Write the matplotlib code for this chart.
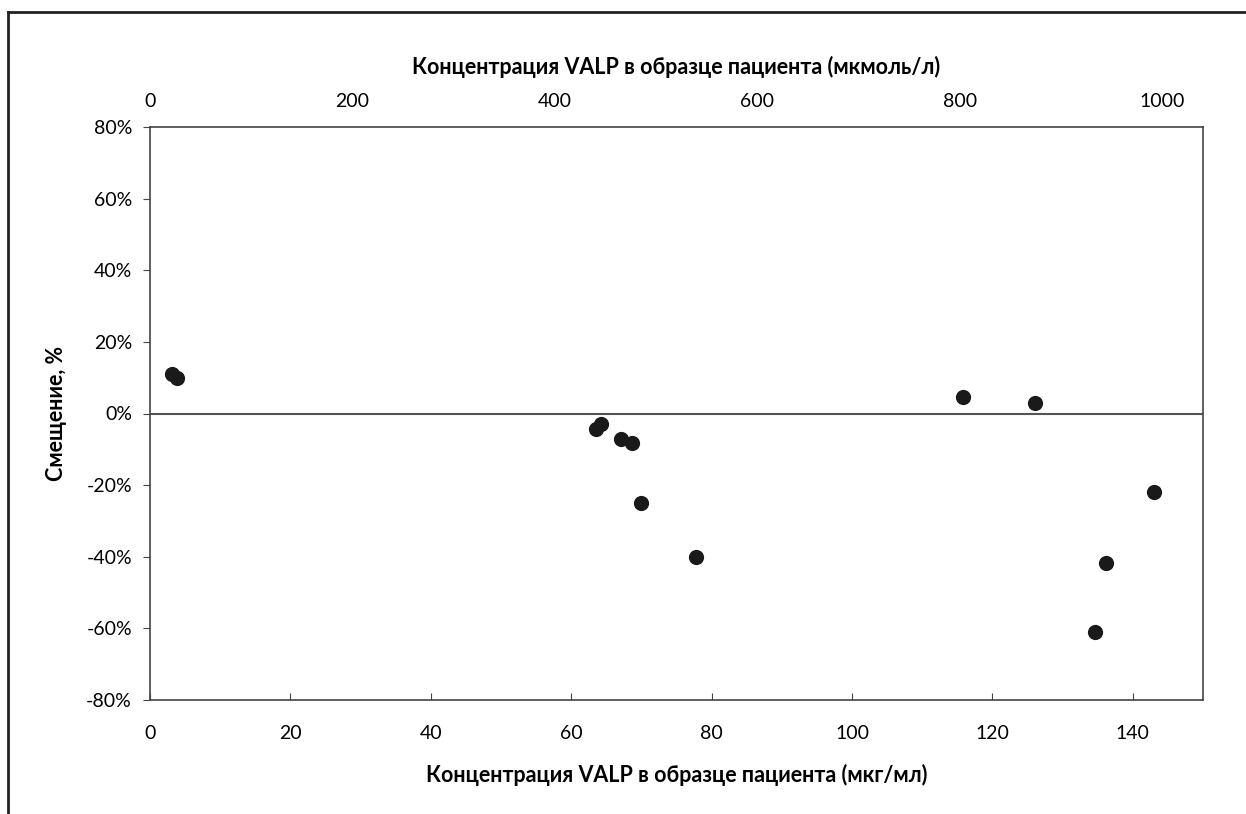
import matplotlib
matplotlib.use("Agg")
import matplotlib.pyplot as plt
from matplotlib.lines import Line2D
from matplotlib.ticker import FuncFormatter

# Data (mkg/ml, bias %)
conc_ugml = [3.2, 3.9, 63.6, 64.3, 67.1, 68.7, 69.9, 77.8, 115.8, 126.1, 134.6, 136.2, 143.0]
bias_pct = [11.0, 10.0, -4.2, -2.8, -7.0, -8.1, -25.0, -40.0, 4.7, 2.8, -60.9, -41.7, -22.0]

x_ticks = [0, 20, 40, 60, 80, 100, 120, 140]
top_ticks = [0, 200, 400, 600, 800, 1000]
y_ticks = [-80, -60, -40, -20, 0, 20, 40, 60, 80]

MW = 144.2  # g/mol, valproic acid: ug/ml -> umol/l
to_umol = lambda x: x * 1000.0 / MW
to_ug = lambda x: x * MW / 1000.0

fam = ['Lato', 'DejaVu Sans']
plt.rcParams['font.family'] = fam

fig = plt.figure(figsize=(12.46, 8.14), dpi=100)
ax = fig.add_axes([150/1246, 1-700/814, (1203-150)/1246, (700-127)/814])

ax.scatter(conc_ugml, bias_pct, s=120, color='#1a1a1a', zorder=3, linewidths=0)
ax.axhline(0, color='#555555', lw=1.5, zorder=2)

ax.set_xlim(0, 150)
ax.set_ylim(-80, 80)
ax.set_xticks(x_ticks)
ax.set_yticks(y_ticks)
ax.yaxis.set_major_formatter(FuncFormatter(lambda v, p: f"{int(v)}%"))
ax.tick_params(axis='x', direction='in', length=5, labelsize=14, pad=18, color='#444444')
ax.tick_params(axis='y', direction='out', length=5, labelsize=14, pad=8, color='#444444')
for s in ax.spines.values():
    s.set_color('#444444')
    s.set_linewidth(1.2)

ax.set_xlabel('Концентрация VALP в образце пациента (мкг/мл)', fontsize=15.5, fontweight='bold', labelpad=16)
ax.set_ylabel('Смещение, %', fontsize=15.5, fontweight='bold', labelpad=14)

sec = ax.secondary_xaxis('top', functions=(to_umol, to_ug))
sec.set_xticks(top_ticks)
sec.tick_params(axis='x', length=0, labelsize=14, pad=12)
sec.spines['top'].set_visible(False)
sec.set_xlabel('Концентрация VALP в образце пациента (мкмоль/л)', fontsize=15.5, fontweight='bold', labelpad=14)

# scanned frame
fig.add_artist(Line2D([8/1246, 8/1246], [0, 1-12/814], transform=fig.transFigure, color='#222222', lw=2))
fig.add_artist(Line2D([8/1246, 1.0], [1-12/814, 1-12/814], transform=fig.transFigure, color='#222222', lw=2))

fig.savefig('out.png', dpi=100, facecolor='white')
